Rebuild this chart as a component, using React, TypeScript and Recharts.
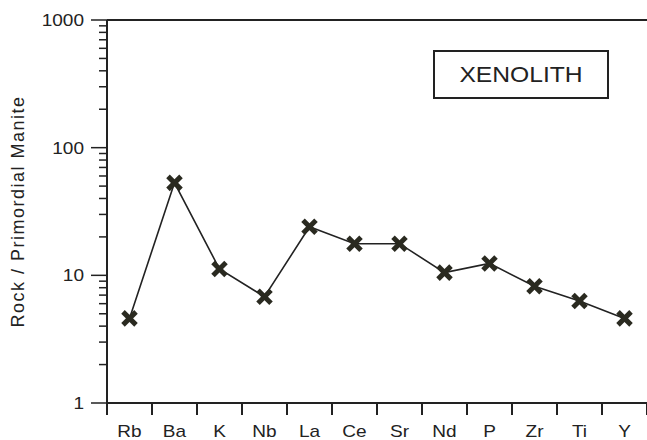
import React from "react";
import { LineChart, Line, XAxis, YAxis, ReferenceLine } from "recharts";

// Spider diagram, rock normalised to primordial mantle
const elements = ["Rb", "Ba", "K", "Nb", "La", "Ce", "Sr", "Nd", "P", "Zr", "Ti", "Y"];
const normalized = [4.6, 53, 11.2, 6.8, 24, 17.7, 17.7, 10.5, 12.4, 8.2, 6.3, 4.6];
const majorTicks = [1, 10, 100, 1000];

const INK = "#222";
const FONT = '"Liberation Sans", Arial, Helvetica, sans-serif';

// every integer step inside each decade, for the minor tick marks
const logTicks: number[] = [];
for (let d = 0; d < majorTicks.length - 1; d++) {
  for (let m = 1; m < 10; m++) logTicks.push(majorTicks[d] * m);
}
logTicks.push(majorTicks[majorTicks.length - 1]);

const data = elements.map((el, i) => ({ el, value: normalized[i] }));

const BAND = 45;
const WIDE = 1.12; // lettering is a touch wider than the stock face

function YTick(props: any) {
  const { x, y, payload } = props;
  const v = payload.value;
  const major = majorTicks.includes(v);
  return (
    <g>
      <line x1={x - (major ? 16 : 8)} x2={x} y1={y} y2={y} stroke={INK} strokeWidth={1.5} />
      {major && (
        <text
          transform={`translate(${x - 23},${y + 6}) scale(${WIDE},1)`}
          textAnchor="end"
          fontSize={17}
          fontFamily={FONT}
          fill={INK}
        >
          {v}
        </text>
      )}
    </g>
  );
}

function XTick(props: any) {
  const { x, y, payload, index } = props;
  const last = index === elements.length - 1;
  return (
    <g>
      <line x1={x - BAND / 2} x2={x - BAND / 2} y1={y} y2={y + 12} stroke={INK} strokeWidth={2} />
      {last && (
        <line x1={x + BAND / 2} x2={x + BAND / 2} y1={y} y2={y + 12} stroke={INK} strokeWidth={2} />
      )}
      <text
        transform={`translate(${x},${y + 34}) scale(${WIDE},1)`}
        textAnchor="middle"
        fontSize={17}
        fontFamily={FONT}
        fill={INK}
      >
        {payload.value}
      </text>
    </g>
  );
}

function Cross(props: any) {
  const { cx, cy } = props;
  if (cx == null || cy == null) return null;
  const s = 6.5;
  return (
    <g stroke="#2a2a20" strokeWidth={5} strokeLinecap="butt">
      <line x1={cx - s} y1={cy - s} x2={cx + s} y2={cy + s} />
      <line x1={cx - s} y1={cy + s} x2={cx + s} y2={cy - s} />
    </g>
  );
}

export default function App() {
  return (
    <div style={{ position: "absolute", left: 0, top: 0, width: 647, height: 440, background: "#fff" }}>
      <LineChart
        width={647}
        height={440}
        data={data}
        margin={{ top: 20, right: 0, bottom: 0, left: 0 }}
      >
        <XAxis
          dataKey="el"
          height={37}
          padding={{ left: BAND / 2, right: BAND / 2 }}
          interval={0}
          tickSize={0}
          tickMargin={0}
          tickLine={false}
          axisLine={{ stroke: INK, strokeWidth: 2 }}
          tick={<XTick />}
        />
        <YAxis
          scale="log"
          domain={[1, 1000]}
          allowDataOverflow
          ticks={logTicks}
          interval={0}
          width={107}
          tickSize={0}
          tickMargin={0}
          tickLine={false}
          axisLine={{ stroke: INK, strokeWidth: 2 }}
          tick={<YTick />}
          label={{
            value: "Rock / Primordial Manite",
            angle: -90,
            position: "insideLeft",
            offset: 18,
            style: {
              textAnchor: "middle",
              fontSize: 18,
              letterSpacing: 1.5,
              fontFamily: FONT,
              fill: INK,
            },
          }}
        />
        <ReferenceLine y={1000} stroke={INK} strokeWidth={2} />
        <Line
          type="linear"
          dataKey="value"
          stroke={INK}
          strokeWidth={1.6}
          dot={<Cross />}
          activeDot={false}
          isAnimationActive={false}
        />
      </LineChart>
      <div
        style={{
          position: "absolute",
          left: 433,
          top: 50,
          width: 176,
          height: 49,
          boxSizing: "border-box",
          border: `2px solid ${INK}`,
          display: "flex",
          alignItems: "center",
          justifyContent: "center",
          fontFamily: FONT,
          fontSize: 22,
          color: INK,
        }}
      >
        <span style={{ display: "inline-block", transform: `scaleX(${WIDE})` }}>XENOLITH</span>
      </div>
    </div>
  );
}
